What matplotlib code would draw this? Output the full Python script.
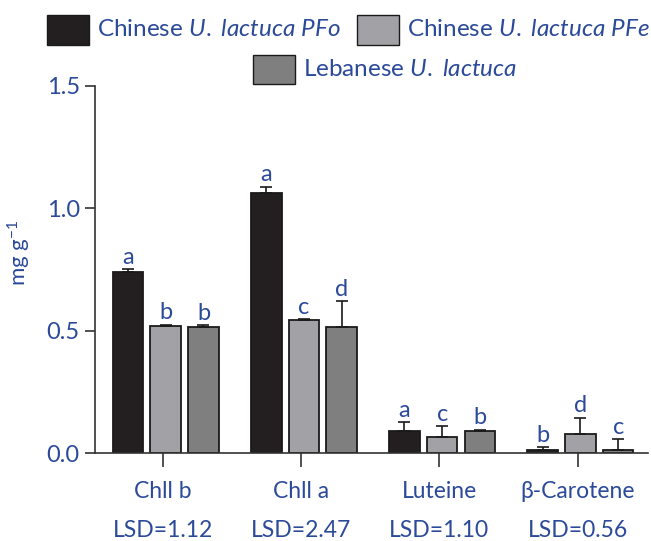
import matplotlib
matplotlib.use("Agg")
import matplotlib.pyplot as plt
from matplotlib.patches import Rectangle
import numpy as np

plt.rcParams['font.family'] = ['Lato', 'DejaVu Sans']
plt.rcParams['mathtext.fontset'] = 'custom'
plt.rcParams['mathtext.rm'] = 'Lato'
plt.rcParams['mathtext.it'] = 'Lato:italic'

categories = ["Chll b", "Chll a", "Luteine", "β-Carotene"]
lsd_labels = ["LSD=1.12", "LSD=2.47", "LSD=1.10", "LSD=0.56"]
series_names = [r"Chinese $\mathit{U.\ lactuca\ PFo}$",
                r"Chinese $\mathit{U.\ lactuca\ PFe}$",
                r"Lebanese $\mathit{U.\ lactuca}$"]
pfo_vals = [0.738, 1.061, 0.088, 0.011]
pfe_vals = [0.520, 0.542, 0.064, 0.079]
leb_vals = [0.514, 0.514, 0.088, 0.014]
pfo_err = [0.014, 0.027, 0.037, 0.012]
pfe_err = [0.004, 0.006, 0.045, 0.066]
leb_err = [0.008, 0.106, 0.007, 0.043]
pfo_letters = ["a", "a", "a", "b"]
pfe_letters = ["b", "c", "c", "d"]
leb_letters = ["b", "d", "b", "c"]
yticks = [0.0, 0.5, 1.0, 1.5]

BLUE = "#2c4a9a"
colors = ["#231f20", "#a2a2a6", "#7f7f7f"]
EDGE = "#1a1a1a"
AX = "#333333"

fig = plt.figure(figsize=(6.51, 5.41), dpi=100)
W, H = 651, 541
ax = fig.add_axes([95 / W, 1 - 453 / H, 553 / W, 367 / H])

x = np.arange(len(categories))
pitch = 0.273
width = 0.221
shift = 0.02
series = [(pfo_vals, pfo_err, pfo_letters), (pfe_vals, pfe_err, pfe_letters),
          (leb_vals, leb_err, leb_letters)]
for k, (vals, errs, letters) in enumerate(series):
    xs = x + (k - 1) * pitch + shift
    ax.bar(xs, vals, width=width, color=colors[k], edgecolor=EDGE,
           linewidth=1.3, zorder=2)
    ax.errorbar(xs, vals, yerr=[np.zeros(len(vals)), errs], fmt='none',
                ecolor=EDGE, elinewidth=1.2, capsize=4.5, capthick=1.2, zorder=3)
    for xi, v, e, lt in zip(xs, vals, errs, letters):
        ax.annotate(lt, xy=(xi, v + e), xytext=(0, 1), textcoords='offset points',
                    ha='center', va='bottom', fontsize=17, color=BLUE)

ax.set_xlim(-0.492, 3.509)
ax.set_ylim(0, 1.5)
ax.set_yticks(yticks)
ax.set_yticklabels([f"{t:.1f}" for t in yticks])
ax.set_xticks(x)
ax.set_xticklabels([])
for s in ['top', 'right']:
    ax.spines[s].set_visible(False)
for s in ['left', 'bottom']:
    ax.spines[s].set_linewidth(1.2)
    ax.spines[s].set_color(AX)
ax.tick_params(axis='y', length=7, width=1.2, color=AX, labelcolor=BLUE,
               labelsize=17, pad=4)
ax.tick_params(axis='x', length=10, width=1.2, color=AX)

for xi, c, l in zip(x, categories, lsd_labels):
    ax.annotate(c, xy=(xi, 0), xycoords=('data', 'axes fraction'),
                xytext=(0, -45), textcoords='offset pixels',
                ha='center', va='baseline', fontsize=16.5, color=BLUE)
    ax.annotate(l, xy=(xi, 0), xycoords=('data', 'axes fraction'),
                xytext=(0, -84), textcoords='offset pixels',
                ha='center', va='baseline', fontsize=16.5, color=BLUE)

ax.set_ylabel(r"mg g$^{\mathrm{-1}}$", fontsize=16, color=BLUE)
ax.yaxis.set_label_coords(-0.112, 0.545)

# legend
def legend_item(px, py, color, label):
    fig.patches.append(Rectangle((px / W, 1 - (py + 14.5) / H), 42 / W, 29 / H,
                                 transform=fig.transFigure, facecolor=color,
                                 edgecolor=EDGE, linewidth=1.0))
    fig.text((px + 50) / W, 1 - py / H, label, ha='left', va='center',
             fontsize=17.5, color=BLUE)

legend_item(47, 30, colors[0], series_names[0])
legend_item(357, 30, colors[1], series_names[1])
legend_item(253, 69, colors[2], series_names[2])

fig.savefig("out.png", dpi=100)
